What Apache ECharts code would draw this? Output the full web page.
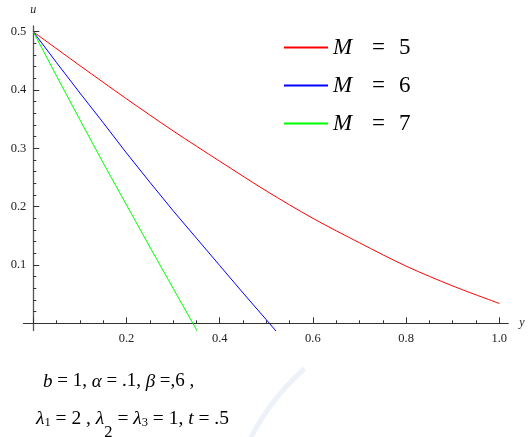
<!DOCTYPE html>
<html>
<head>
<meta charset="utf-8">
<script src="https://cdn.jsdelivr.net/npm/echarts@6/dist/echarts.min.js"></script>
<style>
  html, body { margin: 0; padding: 0; background: #fff; }
  #chart { width: 528px; height: 437px; }
</style>
</head>
<body>
<div id="chart"></div>
<script>
const myChart = echarts.init(document.getElementById('chart'));

// values
const seriesNames = ['M = 5', 'M = 6', 'M = 7'];
const seriesColors = ['#ff0000', '#0000ff', '#00ff00'];

const xRed = [0, 0.1, 0.2, 0.3, 0.4, 0.5, 0.6, 0.7, 0.8, 0.9, 1.0];
const uRed = [0.5, 0.442, 0.385, 0.330, 0.278, 0.227, 0.180, 0.138, 0.098, 0.064, 0.034];

const xBlue = [0, 0.05, 0.1, 0.15, 0.2, 0.25, 0.3, 0.35, 0.4, 0.45, 0.5, 0.53];
const uBlue = [0.5, 0.447, 0.395, 0.344, 0.292, 0.242, 0.193, 0.146, 0.099, 0.052, 0.006, -0.022];

const xGreen = [0, 0.05, 0.1, 0.15, 0.2, 0.25, 0.3, 0.35, 0.355];
const uGreen = [0.5, 0.424, 0.349, 0.275, 0.203, 0.131, 0.060, -0.011, -0.018];

const xTickLabels = [0.2, 0.4, 0.6, 0.8, 1.0];
const yTickLabels = [0.1, 0.2, 0.3, 0.4, 0.5];

function pairs(xs, ys) {
    var out = [];
    for (var i = 0; i < xs.length; i++) {
        out.push([xs[i], ys[i]]);
    }
    return out;
}

const serif = '"Liberation Serif", "DejaVu Serif", serif';
const axisColor = '#333';

function tickFormat(v) {
    if (Math.abs(v) < 1e-9) return '';
    return v.toFixed(1);
}

const option = {
    animation: false,
    backgroundColor: '#fff',
    grid: [
        // grid 0: plot range with padding, carries axis lines and curves
        { left: 23.3, right: 19.7, top: 26, bottom: 106.4 },
        // grid 1: exact 0..1 / 0..0.5 range, carries ticks and labels
        { left: 33.3, right: 28.7, top: 31.7, bottom: 113.7 }
    ],
    legend: {
        orient: 'vertical',
        left: 279,
        top: 31,
        itemWidth: 44,
        itemHeight: 2,
        itemGap: 15,
        icon: 'rect',
        selectedMode: false,
        data: seriesNames,
        formatter: function (name) {
            var parts = name.split(' = ');
            return '{m|' + parts[0] + '}{e|=}{d|' + parts[1] + '}';
        },
        textStyle: {
            rich: {
                m: { fontFamily: serif, fontStyle: 'italic', fontSize: 23, width: 39, lineHeight: 22, color: '#000' },
                e: { fontFamily: serif, fontSize: 23, width: 27, lineHeight: 22, color: '#000' },
                d: { fontFamily: serif, fontSize: 23, lineHeight: 22, color: '#000' }
            }
        }
    },
    xAxis: [
        {
            type: 'value',
            gridIndex: 0,
            min: -0.0215,
            max: 1.019,
            name: 'y',
            nameLocation: 'end',
            nameGap: 11,
            nameTextStyle: { fontFamily: serif, fontStyle: 'italic', fontSize: 12, color: '#222' },
            axisLine: { onZero: true, lineStyle: { color: axisColor, width: 1 } },
            axisTick: { show: false },
            axisLabel: { show: false },
            splitLine: { show: false }
        },
        {
            type: 'value',
            gridIndex: 1,
            min: 0,
            max: 1,
            interval: 0.2,
            axisLine: { show: false },
            axisTick: { show: true, inside: true, length: 6, lineStyle: { color: axisColor } },
            minorTick: { show: true, splitNumber: 4, length: 3, lineStyle: { color: axisColor } },
            axisLabel: {
                margin: 9,
                fontFamily: serif,
                fontSize: 12.5,
                color: '#222',
                customValues: xTickLabels,
                formatter: tickFormat
            },
            splitLine: { show: false }
        }
    ],
    yAxis: [
        {
            type: 'value',
            gridIndex: 0,
            min: -0.0125,
            max: 0.51,
            name: 'u',
            nameLocation: 'end',
            nameGap: 10,
            nameTextStyle: { fontFamily: serif, fontStyle: 'italic', fontSize: 12, color: '#222', align: 'center' },
            axisLine: { onZero: true, lineStyle: { color: '#555', width: 1.3 } },
            axisTick: { show: false },
            axisLabel: { show: false },
            splitLine: { show: false }
        },
        {
            type: 'value',
            gridIndex: 1,
            min: 0,
            max: 0.5,
            interval: 0.1,
            axisLine: { show: false },
            axisTick: { show: true, inside: true, length: 6, lineStyle: { color: axisColor } },
            minorTick: { show: true, splitNumber: 5, length: 3, lineStyle: { color: axisColor } },
            axisLabel: {
                margin: 7,
                fontFamily: serif,
                fontSize: 12.5,
                color: '#222',
                customValues: yTickLabels,
                formatter: tickFormat
            },
            splitLine: { show: false }
        }
    ],
    series: [
        {
            name: seriesNames[0],
            type: 'line',
            xAxisIndex: 0,
            yAxisIndex: 0,
            smooth: 0.3,
            symbol: 'none',
            lineStyle: { color: seriesColors[0], width: 1 },
            itemStyle: { color: seriesColors[0] },
            data: pairs(xRed, uRed)
        },
        {
            name: seriesNames[1],
            type: 'line',
            xAxisIndex: 0,
            yAxisIndex: 0,
            symbol: 'none',
            lineStyle: { color: seriesColors[1], width: 1 },
            itemStyle: { color: seriesColors[1] },
            data: pairs(xBlue, uBlue)
        },
        {
            name: seriesNames[2],
            type: 'line',
            xAxisIndex: 0,
            yAxisIndex: 0,
            symbol: 'none',
            lineStyle: { color: seriesColors[2], width: 1 },
            itemStyle: { color: seriesColors[2] },
            data: pairs(xGreen, uGreen)
        }
    ],
    graphic: [
        {   // faint watermark ring in the lower right
            type: 'arc',
            z: -10,
            silent: true,
            shape: { cx: 460, cy: 545, r: 235, startAngle: Math.PI * 1.13, endAngle: Math.PI * 1.27 },
            style: { stroke: '#edf2f9', lineWidth: 5, fill: null }
        },
        {
            type: 'text',
            left: 43,
            top: 372,
            style: {
                text: '{i|b} = 1, {i|α} = .1, {i|β} =,6 ,',
                fontFamily: serif,
                fontSize: 19,
                fill: '#000',
                rich: {
                    i: { fontFamily: serif, fontStyle: 'italic', fontSize: 19, fill: '#000' }
                }
            }
        },
        {
            type: 'text',
            left: 36,
            top: 396,
            style: {
                text: '{l|λ}{s|1} = 2 , {l|λ}{t|2} = {l|λ}{s|3} = 1, {l|t} = .5',
                fontFamily: serif,
                fontSize: 19.5,
                fill: '#000',
                lineHeight: 22,
                rich: {
                    l: { fontFamily: serif, fontStyle: 'italic', fontSize: 19.5, lineHeight: 22, fill: '#000' },
                    s: { fontFamily: serif, fontSize: 12.5, lineHeight: 12, verticalAlign: 'bottom', fill: '#000' },
                    t: { fontFamily: serif, fontSize: 16.5, lineHeight: 16, padding: [28, 0, 0, 0], fill: '#000' }
                }
            }
        }
    ]
};
myChart.setOption(option);
</script>
</body>
</html>
